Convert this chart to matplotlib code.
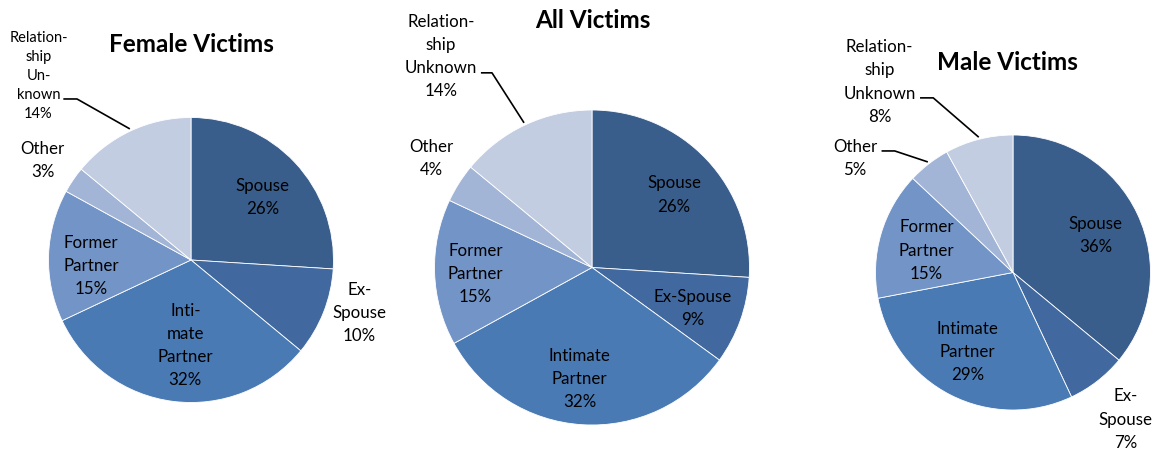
import numpy as np
import matplotlib
matplotlib.use("Agg")
import matplotlib.pyplot as plt

plt.rcParams['font.family'] = ['Lato', 'DejaVu Sans']

categories = ["Spouse", "Ex-Spouse", "Intimate Partner", "Former Partner", "Other", "Relationship Unknown"]
colors = ["#3A5E8C", "#41699F", "#4A7AB4", "#7394C6", "#A3B5D6", "#C3CDE2"]

female = [26, 10, 32, 15, 3, 14]
all_victims = [26, 9, 32, 15, 4, 14]
male = [36, 7, 29, 15, 5, 8]

female_labels = ["Spouse", "Ex-\nSpouse", "Inti-\nmate\nPartner", "Former\nPartner", "Other", "Relation-\nship\nUn-\nknown"]
all_labels = ["Spouse", "Ex-Spouse", "Intimate\nPartner", "Former\nPartner", "Other", "Relation-\nship\nUnknown"]
male_labels = ["Spouse", "Ex-\nSpouse", "Intimate\nPartner", "Former\nPartner", "Other", "Relation-\nship\nUnknown"]

# layout: pie centre / radius in pixels, label centres in radius units
W, H = 1155, 451
charts = [
    dict(title="Female Victims", values=female, labels=female_labels,
         cx=191, cy=260, r=142.5, title_xy=(191, 44),
         pos=[(0.50, 0.44), (1.18, -0.37), (-0.04, -0.60), (-0.70, -0.04), (-1.04, 0.70), (-1.07, 1.29)],
         small={5},
         leaders={5: ((-0.89, 1.13), (-0.80, 1.13))}),
    dict(title="All Victims", values=all_victims, labels=all_labels,
         cx=592, cy=267.5, r=157.5, title_xy=(593, 20),
         pos=[(0.52, 0.46), (0.64, -0.26), (-0.08, -0.71), (-0.74, -0.04), (-1.02, 0.69), (-0.96, 1.34)],
         small=set(),
         leaders={5: ((-0.70, 1.236), (-0.635, 1.236))}),
    dict(title="Male Victims", values=male, labels=male_labels,
         cx=1013, cy=272.5, r=137.5, title_xy=(1007, 63),
         pos=[(0.60, 0.27), (0.82, -1.07), (-0.33, -0.58), (-0.63, 0.16), (-1.15, 0.83), (-0.97, 1.385)],
         small=set(),
         leaders={4: ((-0.95, 0.884), (-0.86, 0.884)), 5: ((-0.67, 1.27), (-0.58, 1.27))}),
]

fig = plt.figure(figsize=(W / 100, H / 100), dpi=100)

for c in charts:
    cx, cy, r = c["cx"], c["cy"], c["r"]
    ax = fig.add_axes([(cx - r) / W, (H - cy - r) / H, 2 * r / W, 2 * r / H])
    vals = np.array(c["values"], dtype=float)
    ax.pie(vals, colors=colors, startangle=90, counterclock=False, radius=1,
           wedgeprops=dict(edgecolor="white", linewidth=0.6))
    ax.set_xlim(-1, 1)
    ax.set_ylim(-1, 1)
    ax.axis("off")

    # mid angles of the wedges
    frac = vals / vals.sum()
    ends = 90 - 360 * np.cumsum(frac)
    mids = ends + 180 * frac

    for i, (lab, v) in enumerate(zip(c["labels"], c["values"])):
        x, y = c["pos"][i]
        small = i in c["small"]
        ax.text(x, y, f"{lab}\n{v}%", ha="center", va="center",
                fontsize=10.5 if small else 12.2,
                linespacing=1.45 if small else 1.55, clip_on=False)
        if i in c["leaders"]:
            (x0, y0), (x1, y1) = c["leaders"][i]
            a = np.deg2rad(mids[i])
            ax.plot([x0, x1, 1.02 * np.cos(a)], [y0, y1, 1.02 * np.sin(a)],
                    color="black", lw=1.2, clip_on=False)

    tx, ty = c["title_xy"]
    fig.text(tx / W, 1 - ty / H, c["title"], ha="center", va="center",
             fontsize=17.5, fontweight="bold")

fig.savefig("out.png", dpi=100, facecolor="white")
